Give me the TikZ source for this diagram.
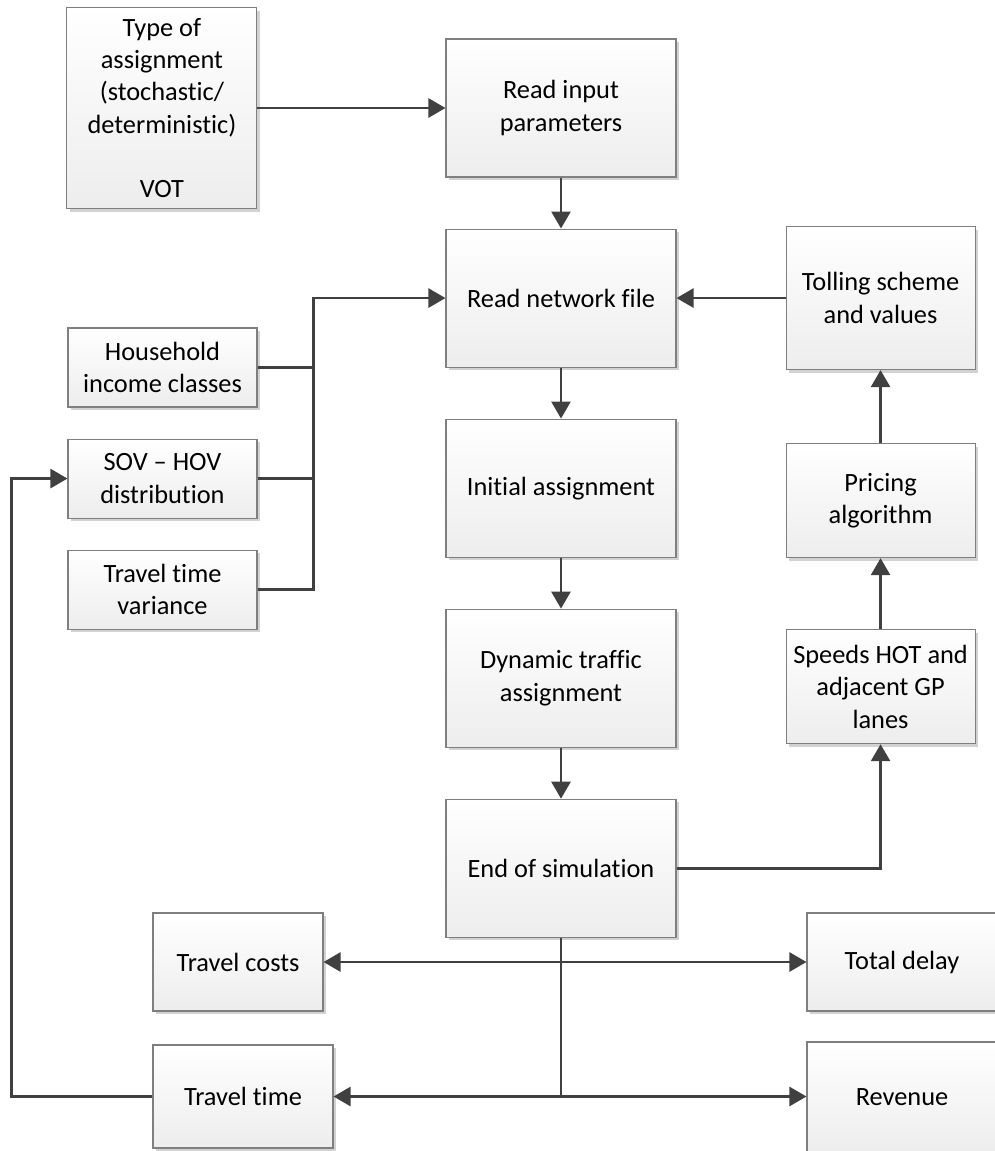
\documentclass[tikz,border=0pt]{standalone}
\usepackage{fontspec}
\setmainfont{Carlito}[Ligatures=NoCommon]
\usepackage{xcolor}
\usepackage{tikz}
\usetikzlibrary{arrows.meta,positioning,shadows,calc}
\definecolor{FlowEdge}{HTML}{7F7F7F}
\definecolor{FlowLine}{HTML}{404040}
\definecolor{FlowShade}{HTML}{EDEDED}
\definecolor{FlowShadow}{HTML}{D2D2D2}

\begin{document}
\begin{tikzpicture}[
  font=\fontsize{15}{18.4}\selectfont,
  box/.style={draw=FlowEdge, line width=0.6pt, top color=white, bottom color=FlowShade,
    drop shadow={shadow xshift=0.06cm, shadow yshift=-0.06cm, fill=FlowShadow, opacity=1},
    align=center, inner sep=2pt, minimum width=#1},
  box/.default=3.8cm,
  line/.style={line width=1.5pt, color=FlowLine},
  arrow/.style={line, -{Triangle[length=0.34cm, width=0.38cm]}},
  twoway/.style={line, {Triangle[length=0.34cm, width=0.38cm]}-{Triangle[length=0.34cm, width=0.38cm]}}
]
\useasboundingbox (0,0) rectangle (19.9,-23.02);

% main column
\node[box=4.6cm, minimum height=2.76cm] (readin) at (11.22,-2.16) {Read input\\parameters};
\node[box=4.6cm, minimum height=2.76cm, below=1.02cm of readin] (readnet) {Read network file};
\node[box=4.6cm, minimum height=2.76cm, below=1.02cm of readnet] (initass) {Initial assignment};
\node[box=4.6cm, minimum height=2.76cm, below=1.02cm of initass] (dynass) {Dynamic traffic\\assignment};
\node[box=4.6cm, minimum height=2.76cm, below=1.02cm of dynass] (endsim) {End of simulation};

\node[box, minimum height=4.02cm, left=3.76cm of readin] (assigntype)
  {Type of\\assignment\\(stochastic/\\deterministic)\\[18.4pt]VOT};

% pricing loop on the right
\node[box=3.78cm, minimum height=2.86cm, right=2.18cm of readnet] (tolling) {Tolling scheme\\and values};
\node[box=3.78cm, minimum height=2.28cm, below=1.46cm of tolling] (pricing) {Pricing\\algorithm};
\node[box=3.78cm, minimum height=2.28cm, below=1.42cm of pricing] (speeds) {Speeds HOT and\\adjacent GP\\lanes};

% demand inputs
\node[box=3.78cm, minimum height=1.58cm] (household) at (3.25,-7.35) {Household\\income classes};
\node[box=3.78cm, minimum height=1.58cm, below=0.62cm of household] (sovhov) {SOV -- HOV\\distribution};
\node[box=3.78cm, minimum height=1.58cm, below=0.62cm of sovhov] (ttvar) {Travel time\\variance};

% outputs
\node[box=3.4cm, minimum height=1.96cm] (tcosts) at (4.76,-19.24) {Travel costs};
\node[box=3.6cm, minimum height=2.06cm] (ttime) at (4.86,-21.93) {Travel time};
\node[box, minimum height=1.96cm] (tdelay) at (18.04,-19.24) {Total delay};
\node[box, minimum height=2.2cm] (revenue) at (18.04,-21.94) {Revenue};

\coordinate (bus) at ([xshift=1.12cm]household.east |- readnet);
\coordinate (loop) at ([xshift=-1.12cm]sovhov.west);
\coordinate (split) at (endsim.south |- ttime.east);

\draw[arrow] (assigntype) -- (readin);
\draw[arrow] (readin) -- (readnet);
\draw[arrow] (readnet) -- (initass);
\draw[arrow] (initass) -- (dynass);
\draw[arrow] (dynass) -- (endsim);
\draw[arrow] (endsim) -| (speeds);
\draw[arrow] (speeds) -- (pricing);
\draw[arrow] (pricing) -- (tolling);
\draw[arrow] (tolling) -- (readnet);

\draw[line] (household.east) -- (household.east -| bus);
\draw[line] (sovhov.east) -- (sovhov.east -| bus);
\draw[arrow] (ttvar.east) -| (bus) -- (readnet.west);

\draw[line] (endsim) -- (split);
\draw[twoway] (tcosts) -- (tdelay);
\draw[arrow] (split) -- (ttime);
\draw[arrow] (split) -- (split -| revenue.west);
\draw[arrow] (ttime.west) -| (loop) -- (sovhov.west);
\end{tikzpicture}
\end{document}
